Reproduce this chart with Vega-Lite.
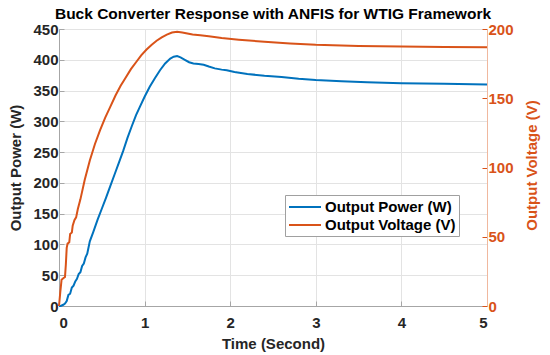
{
  "$schema": "https://vega.github.io/schema/vega-lite/v6.json",
  "width": 428,
  "height": 277,
  "autosize": "none",
  "padding": {"left": 59, "top": 29, "right": 63, "bottom": 49},
  "background": "white",
  "config": {
    "font": "Liberation Sans",
    "view": {"stroke": "#a6a6a6", "strokeWidth": 1},
    "axis": {
      "labelFont": "Liberation Sans",
      "labelFontWeight": "bold",
      "labelFontSize": 15,
      "labelColor": "#262626",
      "titleFont": "Liberation Sans",
      "titleFontWeight": "bold",
      "titleFontSize": 15,
      "titleColor": "#262626",
      "gridColor": "#e3e3e3",
      "gridWidth": 1,
      "domainColor": "#a6a6a6",
      "tickColor": "#a6a6a6",
      "tickSize": -5
    }
  },
  "title": {
    "text": "Buck Converter Response with ANFIS for WTIG Framework",
    "font": "Liberation Sans",
    "fontSize": 15.5,
    "fontWeight": "bold",
    "color": "#000000",
    "anchor": "middle",
    "offset": 0
  },
  "datasets": {
    "power": [
      {"t": 0, "P": 0}, {"t": 0.02, "P": 0}, {"t": 0.05, "P": 2}, {"t": 0.07, "P": 4},
      {"t": 0.09, "P": 8}, {"t": 0.11, "P": 18}, {"t": 0.13, "P": 20}, {"t": 0.15, "P": 30},
      {"t": 0.17, "P": 33}, {"t": 0.19, "P": 40}, {"t": 0.21, "P": 44}, {"t": 0.23, "P": 52},
      {"t": 0.25, "P": 55}, {"t": 0.27, "P": 65}, {"t": 0.29, "P": 69}, {"t": 0.31, "P": 79},
      {"t": 0.33, "P": 85}, {"t": 0.36, "P": 105}, {"t": 0.4, "P": 120}, {"t": 0.45, "P": 140},
      {"t": 0.5, "P": 158}, {"t": 0.55, "P": 176}, {"t": 0.6, "P": 195}, {"t": 0.65, "P": 214},
      {"t": 0.7, "P": 233}, {"t": 0.75, "P": 252}, {"t": 0.8, "P": 273}, {"t": 0.85, "P": 292},
      {"t": 0.9, "P": 310}, {"t": 0.95, "P": 325}, {"t": 1.0, "P": 340}, {"t": 1.06, "P": 356},
      {"t": 1.12, "P": 370}, {"t": 1.18, "P": 383}, {"t": 1.24, "P": 394}, {"t": 1.3, "P": 402},
      {"t": 1.34, "P": 405}, {"t": 1.38, "P": 406}, {"t": 1.42, "P": 404}, {"t": 1.47, "P": 400},
      {"t": 1.52, "P": 396}, {"t": 1.57, "P": 394}, {"t": 1.63, "P": 393}, {"t": 1.69, "P": 392},
      {"t": 1.75, "P": 389}, {"t": 1.82, "P": 386}, {"t": 1.9, "P": 384}, {"t": 1.96, "P": 383},
      {"t": 2.05, "P": 380}, {"t": 2.2, "P": 377}, {"t": 2.4, "P": 374}, {"t": 2.6, "P": 372},
      {"t": 2.8, "P": 369}, {"t": 3.0, "P": 367}, {"t": 3.3, "P": 365}, {"t": 3.6, "P": 363.5},
      {"t": 4.0, "P": 362}, {"t": 4.5, "P": 361}, {"t": 5.0, "P": 360}
    ],
    "voltage": [
      {"t": 0, "V": 0}, {"t": 0.015, "V": 10}, {"t": 0.03, "V": 19}, {"t": 0.05, "V": 20},
      {"t": 0.07, "V": 21}, {"t": 0.08, "V": 30}, {"t": 0.09, "V": 42}, {"t": 0.1, "V": 45},
      {"t": 0.12, "V": 46}, {"t": 0.13, "V": 52}, {"t": 0.15, "V": 53}, {"t": 0.16, "V": 58},
      {"t": 0.18, "V": 62}, {"t": 0.2, "V": 64}, {"t": 0.22, "V": 70}, {"t": 0.25, "V": 77},
      {"t": 0.3, "V": 91}, {"t": 0.36, "V": 105}, {"t": 0.42, "V": 117}, {"t": 0.48, "V": 127},
      {"t": 0.54, "V": 136}, {"t": 0.6, "V": 144}, {"t": 0.66, "V": 152}, {"t": 0.72, "V": 159},
      {"t": 0.78, "V": 165}, {"t": 0.84, "V": 171}, {"t": 0.9, "V": 176}, {"t": 0.96, "V": 181},
      {"t": 1.02, "V": 185}, {"t": 1.08, "V": 188.5}, {"t": 1.14, "V": 191.5}, {"t": 1.2, "V": 194},
      {"t": 1.26, "V": 196}, {"t": 1.32, "V": 197.5}, {"t": 1.38, "V": 198}, {"t": 1.44, "V": 197.5},
      {"t": 1.5, "V": 196.8}, {"t": 1.56, "V": 196}, {"t": 1.65, "V": 195.5}, {"t": 1.75, "V": 194.8},
      {"t": 1.9, "V": 193.5}, {"t": 2.1, "V": 192.3}, {"t": 2.4, "V": 190.8}, {"t": 2.7, "V": 189.5},
      {"t": 3.0, "V": 188.6}, {"t": 3.5, "V": 187.8}, {"t": 4.0, "V": 187.3}, {"t": 4.5, "V": 187},
      {"t": 5.0, "V": 186.8}
    ]
  },
  "layer": [
    {
      "data": {"name": "power"},
      "mark": {"type": "line", "strokeWidth": 2, "interpolate": "linear"},
      "encoding": {
        "x": {
          "field": "t", "type": "quantitative",
          "scale": {"domain": [0, 5], "nice": false},
          "axis": {"title": "Time (Second)", "values": [0, 1, 2, 3, 4, 5], "format": "d", "labelPadding": 14, "titlePadding": 6}
        },
        "y": {
          "field": "P", "type": "quantitative",
          "scale": {"domain": [0, 450], "nice": false},
          "axis": {"title": "Output Power (W)", "orient": "left", "values": [0, 50, 100, 150, 200, 250, 300, 350, 400, 450], "labelPadding": 6, "titlePadding": 9}
        },
        "color": {
          "datum": "Output Power (W)",
          "type": "nominal",
          "scale": {"domain": ["Output Power (W)", "Output Voltage (V)"], "range": ["#0072BD", "#D95319"]},
          "legend": {
            "title": null,
            "orient": "none",
            "legendX": 226,
            "legendY": 166,
            "symbolType": "M-1,0H3",
            "symbolSize": 256,
            "symbolStrokeWidth": 2,
            "labelFont": "Liberation Sans",
            "labelFontSize": 15,
            "labelFontWeight": "bold",
            "labelColor": "#000000",
            "labelOffset": 19,
            "fillColor": "white",
            "strokeColor": "#a0a0a0",
            "padding": 3,
            "rowPadding": 1
          }
        }
      }
    },
    {
      "data": {"name": "voltage"},
      "mark": {"type": "line", "strokeWidth": 2, "interpolate": "linear"},
      "encoding": {
        "x": {"field": "t", "type": "quantitative"},
        "y": {
          "field": "V", "type": "quantitative",
          "scale": {"domain": [0, 200], "nice": false},
          "axis": {
            "title": "Output Voltage (V)", "orient": "right", "grid": false,
            "values": [0, 50, 100, 150, 200],
            "labelColor": "#D95319", "titleColor": "#D95319",
            "domainColor": "#f0b89e", "tickColor": "#D95319",
            "labelPadding": 6, "titleAngle": 270,
            "titleX": 44, "titleY": 136, "titleAlign": "center", "titleBaseline": "middle"
          }
        },
        "color": {"datum": "Output Voltage (V)", "type": "nominal"}
      }
    }
  ],
  "resolve": {"scale": {"y": "independent"}}
}
